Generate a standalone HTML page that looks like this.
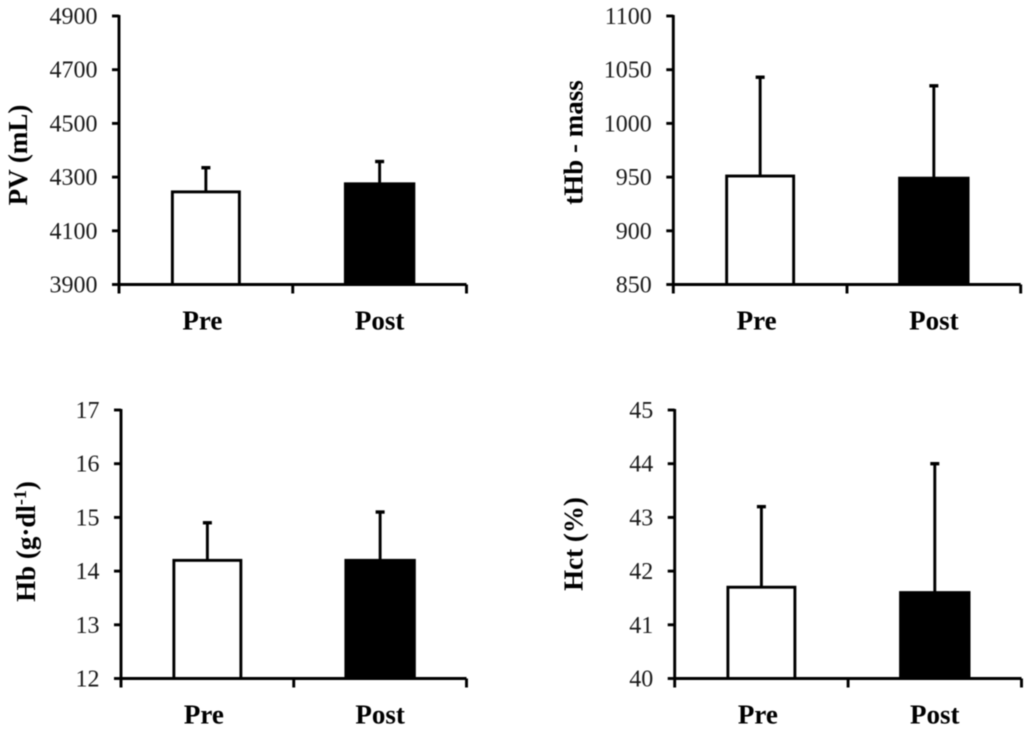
<!DOCTYPE html>
<html lang="en">
<head>
<meta charset="utf-8">
<title>Blood volume measures, pre and post</title>
<style>
  html, body { margin: 0; padding: 0; background: #fff; }
  svg { display: block; filter: blur(0.6px); }
  text { font-family: "Liberation Serif", serif; fill: #000; }
  .tick { font-size: 24px; fill: #1a1a1a; text-anchor: end; }
  .cat { font-size: 27px; font-weight: bold; text-anchor: middle; }
  .title { font-size: 27px; font-weight: bold; text-anchor: middle; }
  .sup { font-size: 18px; }
</style>
</head>
<body>
<svg id="chart" xmlns="http://www.w3.org/2000/svg" width="1024" height="732" viewBox="0 0 1024 732"></svg>
<script>
const categories = ['Pre', 'Post'];

const pvTicks = [3900, 4100, 4300, 4500, 4700, 4900];
const pvMeans = [4245, 4275];
const pvErrorTops = [4335, 4358];

const thbTicks = [850, 900, 950, 1000, 1050, 1100];
const thbMeans = [951, 949];
const thbErrorTops = [1043, 1035];

const hbTicks = [12, 13, 14, 15, 16, 17];
const hbMeans = [14.2, 14.2];
const hbErrorTops = [14.9, 15.1];

const hctTicks = [40, 41, 42, 43, 44, 45];
const hctMeans = [41.7, 41.6];
const hctErrorTops = [43.2, 44.0];

const panels = [
  { key: 'pv', ticks: pvTicks, means: pvMeans, tops: pvErrorTops, left: 119, right: 466.5, top: 16, bottom: 284.5, titleX: 27, titleY: 155 },
  { key: 'thb', ticks: thbTicks, means: thbMeans, tops: thbErrorTops, left: 673.3, right: 1020.7, top: 16, bottom: 284.5, titleX: 582.5, titleY: 142.5 },
  { key: 'hb', ticks: hbTicks, means: hbMeans, tops: hbErrorTops, left: 121, right: 466.5, top: 410, bottom: 678.5, titleX: 35, titleY: 541.5 },
  { key: 'hct', ticks: hctTicks, means: hctMeans, tops: hctErrorTops, left: 674.7, right: 1021.5, top: 410, bottom: 678.5, titleX: 582.5, titleY: 544 }
];

const NS = 'http://www.w3.org/2000/svg';
const svg = document.getElementById('chart');

function make(tag, attrs, parent) {
  const el = document.createElementNS(NS, tag);
  for (const k in attrs) el.setAttribute(k, attrs[k]);
  parent.appendChild(el);
  return el;
}

panels.forEach(function (p) {
  const g = make('g', {}, svg);
  
  

  const lo = p.ticks[0];
  const hi = p.ticks[p.ticks.length - 1];
  const yScale = function (v) { return p.bottom - (v - lo) / (hi - lo) * (p.bottom - p.top); };
  const bandW = (p.right - p.left) / categories.length;
  const xScale = function (i) { return p.left + bandW * (i + 0.5); };
  const line = { stroke: '#000', 'stroke-width': 2.9 };

  // bars and error bars
  categories.forEach(function (c, i) {
    const cx = xScale(i);
    const yTop = yScale(p.tops[i]);
    const yMean = yScale(p.means[i]);
    const barW = i === 0 ? 67 : 68.5;

    const err = make('line', Object.assign({ x1: cx, x2: cx, y1: yTop, y2: yMean }, line), g);
    
    

    const cap = make('line', {
      x1: cx - 4.5, x2: cx + 4.5, y1: yTop, y2: yTop, stroke: '#000', 'stroke-width': 3.4
    }, g);
    
    

    const bar = make('rect', {
      x: cx - barW / 2, y: yMean, width: barW, height: p.bottom - yMean,
      fill: i === 0 ? '#fff' : '#000', stroke: '#000', 'stroke-width': 2.9
    }, g);
    
    

    const label = make('text', { x: cx - 3.5 + i * 3.5, y: p.bottom + 45, class: 'cat' }, g);
    label.textContent = c;
    
    
  });

  // y axis
  const yAxis = make('line', Object.assign({ x1: p.left, x2: p.left, y1: p.top - 1, y2: p.bottom + 9 }, line), g);
  
  

  p.ticks.forEach(function (t) {
    const y = yScale(t);
    const mark = make('line', Object.assign({ x1: p.left - 7, x2: p.left, y1: y, y2: y }, line), g);
    
    

    const txt = make('text', { x: p.left - 21.5, y: y + 8, class: 'tick' }, g);
    txt.textContent = String(t);
    
    
  });

  // x axis
  const xAxis = make('line', Object.assign({ x1: p.left, x2: p.right, y1: p.bottom, y2: p.bottom }, line), g);
  
  

  for (let i = 1; i <= categories.length; i++) {
    const x = p.left + bandW * i;
    const mark = make('line', Object.assign({ x1: x, x2: x, y1: p.bottom, y2: p.bottom + 9 }, line), g);
    
    
  }
});

function addTitle(panel, parts) {
  const t = make('text', {
    class: 'title',
    transform: 'translate(' + panel.titleX + ' ' + panel.titleY + ') rotate(-90)'
  }, svg);
  
  
  parts.forEach(function (part) {
    const attrs = part.sup ? { class: 'sup', dy: -9 } : (part.after ? { dy: 9 } : {});
    const s = make('tspan', attrs, t);
    s.textContent = part.text;
  });
}

addTitle(panels[0], [{ text: 'PV (mL)' }]);
addTitle(panels[1], [{ text: 'tHb - mass' }]);
addTitle(panels[2], [{ text: 'Hb (g·dl' }, { text: '-1', sup: true }, { text: ')', after: true }]);
addTitle(panels[3], [{ text: 'Hct (%)' }]);
</script>
</body>
</html>
